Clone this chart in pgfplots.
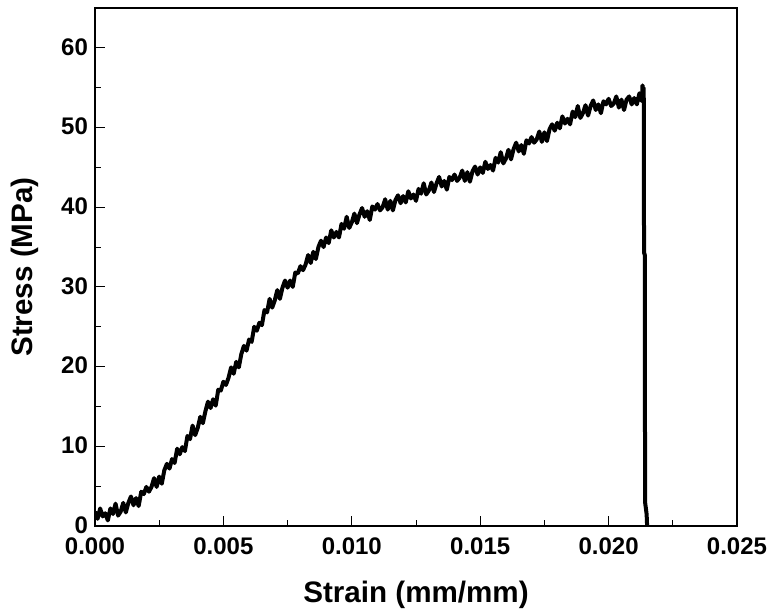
\documentclass[border=0pt]{standalone}
\usepackage{fontspec}
\setmainfont{Liberation Sans}
\usepackage{pgfplots}
\pgfplotsset{compat=1.18}

\begin{document}
\begin{tikzpicture}
\begin{axis}[
  scale only axis,
  width=321pt, height=259pt,
  xmin=0, xmax=0.025, ymin=0, ymax=65,
  xtick={0,0.005,0.01,0.015,0.02,0.025},
  ytick={0,10,20,30,40,50,60},
  minor x tick num=1, minor y tick num=1,
  xtick pos=bottom, ytick pos=left,
  tick align=inside,
  major tick length=4.8pt, minor tick length=3pt,
  every tick/.style={black, line width=0.5pt},
  axis line style={line width=0.7pt},
  scaled x ticks=false,
  xticklabel style={yshift=-2.5pt, /pgf/number format/.cd, fixed, fixed zerofill, precision=3},
  yticklabel style={yshift=0.5pt},
  /pgf/number format/assume math mode=true,
  tick label style={font=\fontsize{12}{14}\selectfont\bfseries},
  label style={font=\fontsize{14.8}{17}\selectfont\bfseries},
  xlabel={Strain (mm/mm)},
  ylabel={Stress (MPa)},
  xlabel shift=6pt,
  ylabel shift=4.5pt,
]
\addplot[black, line width=2pt, line join=round] coordinates {
(0.0000,1.8) (0.0001,0.9) (0.0002,2.2) (0.0003,1.2) (0.0004,1.6)
(0.0005,0.7) (0.0006,2.2) (0.0007,1.5) (0.0008,2.8) (0.0009,1.3)
(0.0010,1.8) (0.0011,2.9) (0.0012,1.7) (0.0013,2.9) (0.0014,3.7)
(0.0015,2.6) (0.0016,3.5) (0.0017,2.5) (0.0018,4.3) (0.0019,4.0)
(0.0020,4.9) (0.0021,4.3) (0.0022,4.9) (0.0023,6.0) (0.0024,4.9)
(0.0025,6.2) (0.0026,5.3) (0.0027,7.0) (0.0028,7.8) (0.0029,7.2)
(0.0030,8.4) (0.0031,7.9) (0.0032,9.7) (0.0033,9.0) (0.0034,9.9)
(0.0035,9.4) (0.0036,11.3) (0.0037,10.9) (0.0038,12.6) (0.0039,11.4)
(0.0040,12.3) (0.0041,13.7) (0.0042,12.9) (0.0043,14.4) (0.0044,15.6)
(0.0045,14.8) (0.0046,15.9) (0.0047,15.1) (0.0048,17.1) (0.0049,17.0)
(0.0050,18.1) (0.0051,17.7) (0.0052,18.6) (0.0053,19.9) (0.0054,19.1)
(0.0055,20.6) (0.0056,19.9) (0.0057,21.6) (0.0058,22.6) (0.0059,22.0)
(0.0060,23.4) (0.0061,23.1) (0.0062,25.0) (0.0063,24.5) (0.0064,25.5)
(0.0065,25.2) (0.0066,27.1) (0.0067,26.8) (0.0068,28.5) (0.0069,27.4)
(0.0070,28.3) (0.0071,29.6) (0.0072,28.5) (0.0073,29.9) (0.0074,30.8)
(0.0075,29.9) (0.0076,30.8) (0.0077,30.0) (0.0078,31.8) (0.0079,31.7)
(0.0080,32.6) (0.0081,32.1) (0.0082,32.8) (0.0083,34.0) (0.0084,33.0)
(0.0085,34.4) (0.0086,33.5) (0.0087,35.0) (0.0088,35.8) (0.0089,35.0)
(0.0090,36.2) (0.0091,35.5) (0.0092,37.1) (0.0093,36.2) (0.0094,36.9)
(0.0095,36.2) (0.0096,37.9) (0.0097,37.3) (0.0098,38.8) (0.0099,37.4)
(0.0100,38.1) (0.0101,39.2) (0.0102,38.0) (0.0103,39.1) (0.0104,39.9)
(0.0105,38.8) (0.0106,39.5) (0.0107,38.4) (0.0108,40.1) (0.0109,39.7)
(0.0110,40.4) (0.0111,39.6) (0.0112,40.0) (0.0113,41.0) (0.0114,39.7)
(0.0115,40.8) (0.0116,39.6) (0.0117,40.9) (0.0118,41.5) (0.0119,40.5)
(0.0120,41.4) (0.0121,40.6) (0.0122,42.0) (0.0123,41.1) (0.0124,41.6)
(0.0125,40.8) (0.0126,42.3) (0.0127,41.7) (0.0128,43.0) (0.0129,41.6)
(0.0130,42.1) (0.0131,43.1) (0.0132,41.9) (0.0133,43.0) (0.0134,43.8)
(0.0135,42.6) (0.0136,43.3) (0.0137,42.2) (0.0138,43.8) (0.0139,43.4)
(0.0140,44.1) (0.0141,43.3) (0.0142,43.7) (0.0143,44.6) (0.0144,43.3)
(0.0145,44.4) (0.0146,43.2) (0.0147,44.5) (0.0148,45.1) (0.0149,44.1)
(0.0150,45.0) (0.0151,44.3) (0.0152,45.7) (0.0153,44.8) (0.0154,45.3)
(0.0155,44.6) (0.0156,46.2) (0.0157,45.6) (0.0158,46.9) (0.0159,45.5)
(0.0160,46.1) (0.0161,47.2) (0.0162,46.0) (0.0163,47.3) (0.0164,48.1)
(0.0165,47.0) (0.0166,47.8) (0.0167,46.7) (0.0168,48.4) (0.0169,48.0)
(0.0170,48.8) (0.0171,48.1) (0.0172,48.5) (0.0173,49.5) (0.0174,48.2)
(0.0175,49.4) (0.0176,48.3) (0.0177,49.8) (0.0178,50.4) (0.0179,49.6)
(0.0180,50.6) (0.0181,49.9) (0.0182,51.4) (0.0183,50.5) (0.0184,51.1)
(0.0185,50.4) (0.0186,52.0) (0.0187,51.3) (0.0188,52.7) (0.0189,51.2)
(0.0190,51.8) (0.0191,52.8) (0.0192,51.5) (0.0193,52.7) (0.0194,53.4)
(0.0195,52.2) (0.0196,52.9) (0.0197,51.8) (0.0198,53.3) (0.0199,52.9)
(0.0200,53.6) (0.0201,52.7) (0.0202,53.0) (0.0203,53.9) (0.0204,52.5)
(0.0205,53.5) (0.0206,52.2) (0.0207,53.5) (0.0208,53.9) (0.0209,52.9)
(0.0210,53.7) (0.0211,52.9) (0.0212,54.3) (0.0213,53.3)
(0.02132,55.3) (0.02134,53.4) (0.02136,55.0) (0.02137,53.5)
(0.02138,34.3) (0.02141,34.0) (0.02142,3.0) (0.02148,1.5) (0.02150,0)
};
\coordinate (sw) at (rel axis cs:0,0);
\coordinate (ne) at (rel axis cs:1,1);
\end{axis}
\pgfresetboundingbox
\path[use as bounding box] ([shift={(-47.5pt,-42pt)}]sw) rectangle ([shift={(16.5pt,4pt)}]ne);
\end{tikzpicture}
\end{document}
